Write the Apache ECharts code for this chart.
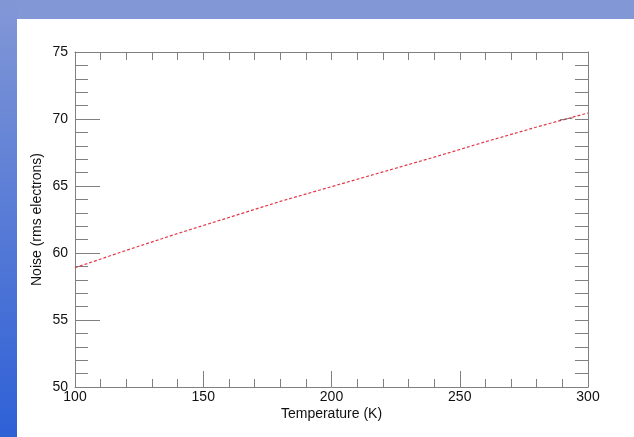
<!DOCTYPE html>
<html>
<head>
<meta charset="utf-8">
<script src="https://cdn.jsdelivr.net/npm/echarts@6/dist/echarts.min.js"></script>
<style>
html,body{margin:0;padding:0;background:#fff;}
#c{width:634px;height:437px;}
</style>
</head>
<body>
<div id="c"></div>
<script>
// Data
const temperatures = [100, 120, 140, 160, 180, 200, 220, 240, 260, 280, 300];
const noiseValues  = [58.9, 60.2, 61.45, 62.65, 63.85, 64.95, 66.05, 67.15, 68.3, 69.4, 70.45];
const markTemps  = [289, 294];
const markValues = [69.92, 70.08];
const xTicks = [100, 150, 200, 250, 300];
const yTicks = [50, 55, 60, 65, 70, 75];

const chart = echarts.init(document.getElementById('c'));
const font = 'Liberation Sans, Arial, Helvetica, sans-serif';
const axisGray = '#808080';

const lineData = temperatures.map((t, i) => [t, noiseValues[i]]);
const markData = markTemps.map((t, i) => [t, markValues[i]]);

chart.setOption({
  animation: false,
  backgroundColor: '#ffffff',
  graphic: [
    { type: 'rect', left: 0, top: 0, shape: { width: 634, height: 19 },
      style: { fill: '#8297d6' }, z: -10 },
    { type: 'rect', left: 0, top: 0, shape: { width: 17, height: 437 },
      style: { fill: new echarts.graphic.LinearGradient(0, 0, 0, 1, [
        { offset: 0, color: '#8297d6' },
        { offset: 1, color: '#2e60d6' }
      ]) }, z: -10 }
  ],
  grid: { left: 75, right: 46, top: 52, bottom: 50, containLabel: false },
  xAxis: [
    {
      type: 'value', min: xTicks[0], max: xTicks[xTicks.length - 1], interval: 50,
      position: 'bottom',
      name: 'Temperature (K)', nameLocation: 'middle', nameGap: 20,
      nameMoveOverlap: false,
      nameTextStyle: { fontFamily: font, fontSize: 14, color: '#111' },
      axisLine: { show: true, lineStyle: { color: axisGray, width: 1 } },
      axisTick: { show: true, inside: true, length: 16, lineStyle: { color: axisGray } },
      minorTick: { show: true, splitNumber: 5, length: 8, lineStyle: { color: axisGray } },
      axisLabel: { fontFamily: font, fontSize: 14, color: '#111', margin: 3 },
      splitLine: { show: false }
    },
    {
      type: 'value', min: xTicks[0], max: xTicks[xTicks.length - 1], interval: 50,
      position: 'top',
      axisLine: { show: true, lineStyle: { color: axisGray, width: 1 } },
      axisTick: { show: true, inside: true, length: 8, lineStyle: { color: axisGray } },
      minorTick: { show: true, splitNumber: 5, length: 8, lineStyle: { color: axisGray } },
      axisLabel: { show: false },
      splitLine: { show: false }
    }
  ],
  yAxis: [
    {
      type: 'value', min: yTicks[0], max: yTicks[yTicks.length - 1], interval: 5,
      position: 'left',
      name: 'Noise (rms electrons)', nameLocation: 'middle', nameGap: 31,
      nameMoveOverlap: false,
      nameTextStyle: { fontFamily: font, fontSize: 14, color: '#111' },
      axisLine: { show: true, lineStyle: { color: axisGray, width: 1 } },
      axisTick: { show: true, inside: true, length: 25, lineStyle: { color: axisGray } },
      minorTick: { show: true, splitNumber: 5, length: 13, lineStyle: { color: axisGray } },
      axisLabel: { fontFamily: font, fontSize: 14, color: '#111', margin: 7 },
      splitLine: { show: false }
    },
    {
      type: 'value', min: yTicks[0], max: yTicks[yTicks.length - 1], interval: 5,
      position: 'right',
      axisLine: { show: true, lineStyle: { color: axisGray, width: 1 } },
      axisTick: { show: true, inside: true, length: 13, lineStyle: { color: axisGray } },
      minorTick: { show: true, splitNumber: 5, length: 13, lineStyle: { color: axisGray } },
      axisLabel: { show: false },
      splitLine: { show: false }
    }
  ],
  series: [
    {
      type: 'line', data: lineData, xAxisIndex: 0, yAxisIndex: 0,
      showSymbol: false, smooth: false,
      lineStyle: { color: '#e03a4a', width: 1.2, type: [3, 2] }
    },
    {
      type: 'line', data: markData, xAxisIndex: 0, yAxisIndex: 0,
      showSymbol: false,
      lineStyle: { color: '#444', width: 1, type: [3, 2] }
    }
  ]
});
</script>
</body>
</html>
